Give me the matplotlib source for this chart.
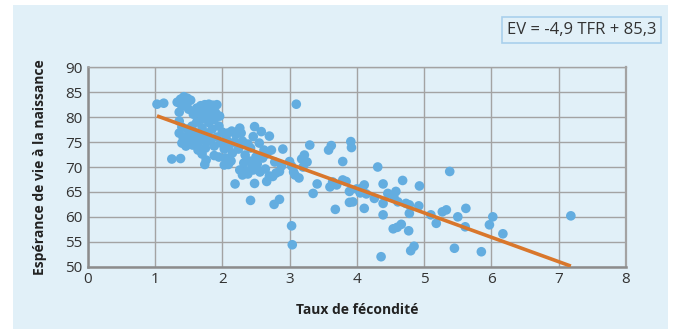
import matplotlib.pyplot as plt
from matplotlib.patches import Rectangle

# Fertility rate (x) and life expectancy (y)
tfr = [
    1.03, 1.13, 1.25, 1.38,
    1.33, 1.38, 1.43, 1.48, 1.53, 1.40, 1.36, 1.45, 1.50, 1.57,
    1.62, 1.68, 1.74, 1.80, 1.86, 1.92, 1.65, 1.72, 1.78, 1.84, 1.90, 1.96,
    1.70, 1.62, 1.88, 1.80,
    1.36, 1.40, 1.36, 1.42, 1.40, 1.46, 1.52, 1.50, 1.48, 1.55, 1.58, 1.60,
    1.56, 1.64, 1.66, 1.70, 1.72, 1.75, 1.78, 1.82, 1.85, 1.88, 1.92, 1.95,
    1.98, 2.00, 2.03, 2.06, 2.08, 2.10, 2.14, 2.15, 2.18, 2.20, 2.24, 2.26,
    1.64, 1.70, 1.76, 1.74, 1.88, 1.95, 2.03, 2.09, 2.05, 2.13,
    2.28, 2.30, 2.34, 2.32, 2.38, 2.36, 2.40, 2.42, 2.44, 2.46, 2.48, 2.50,
    2.52, 2.55, 2.58, 2.60, 2.62, 2.64, 2.70, 2.66, 2.26, 2.30, 2.38, 2.46,
    2.56,
    2.19, 2.48, 2.66, 2.75, 2.85, 2.42, 2.77, 2.85, 2.70, 2.80, 2.73, 2.90,
    2.78, 2.88,
    3.00, 3.03, 3.06, 3.08, 3.10, 3.03, 3.04, 3.18, 3.22, 3.26, 3.30, 3.14,
    3.20,
    3.35, 3.41, 3.60, 3.64, 3.70, 3.58, 3.62, 3.68, 3.79, 3.84, 3.89, 3.89,
    3.91, 3.92, 3.79,
    3.94, 4.00, 4.05, 4.08, 4.11, 4.14, 4.11, 4.31, 4.39, 4.26, 4.46, 4.39,
    4.39, 4.36, 4.58, 4.61, 4.68, 4.55, 4.73, 4.78, 4.78, 4.93, 4.92, 4.54,
    4.60, 4.66, 4.77, 4.80, 4.85,
    5.10, 5.18, 5.27, 5.33, 5.38, 5.50, 5.45, 5.62, 5.61, 6.02, 5.97, 6.17,
    5.85, 7.18,
]
ev = [
    82.6, 82.8, 71.6, 71.7,
    83.0, 83.6, 84.1, 83.8, 83.4, 82.2, 81.0, 82.6, 81.6, 80.6,
    81.8, 82.3, 82.5, 82.6, 82.4, 82.5, 80.8, 81.2, 80.5, 81.4, 80.9, 80.2,
    79.6, 79.0, 79.5, 78.9,
    79.2, 78.0, 76.8, 75.8, 74.8, 74.2, 75.0, 76.5, 77.6, 78.2, 77.0, 75.8,
    74.4, 74.8, 76.4, 77.8, 75.4, 73.8, 76.8, 75.2, 77.6, 74.2, 76.0, 78.2,
    74.8, 77.0, 73.6, 75.6, 76.8, 74.2, 77.2, 72.8, 75.0, 76.5, 73.6, 77.8,
    73.4, 72.6, 71.4, 70.5, 72.3, 72.0, 70.4, 70.5, 71.8, 71.2,
    76.8, 75.2, 72.4, 70.8, 74.6, 69.2, 71.2, 73.8, 69.8, 76.1, 78.1, 72.0,
    70.6, 74.8, 77.1, 71.8, 73.4, 69.6, 76.2, 72.6, 69.4, 68.4, 68.6, 69.4,
    69.0,
    66.6, 66.7, 67.1, 68.1, 69.1, 63.3, 62.5, 63.5, 68.2, 68.8, 73.4, 73.6,
    71.0, 70.2,
    71.1, 70.2, 69.0, 68.4, 82.6, 58.2, 54.4, 71.6, 72.4, 71.0, 74.4, 67.8,
    70.0,
    64.7, 66.6, 66.0, 67.0, 66.4, 73.4, 74.3, 61.5, 71.1, 67.1, 65.1, 62.9,
    75.1, 73.9, 67.4,
    63.0, 65.6, 64.8, 65.8, 66.4, 64.6, 61.7, 70.0, 66.6, 63.7, 64.7, 62.7,
    60.4, 52.0, 65.1, 63.0, 67.3, 64.0, 62.7, 62.4, 60.7, 66.2, 62.2, 57.6,
    57.9, 58.5, 57.2, 53.2, 54.1,
    60.4, 58.7, 61.0, 61.4, 69.1, 60.0, 53.7, 61.7, 58.0, 60.0, 58.4, 56.6,
    53.0, 60.2,
]

# Regression shown on the chart
slope = -4.9
intercept = 85.3
x_ticks = [0, 1, 2, 3, 4, 5, 6, 7, 8]
y_ticks = [50, 55, 60, 65, 70, 75, 80, 85, 90]

BG = '#e1f0f8'
DOT = '#63ade0'
LINE = '#d9772c'
GRID = '#a3a3a3'

plt.rcParams['font.family'] = ['Open Sans', 'DejaVu Sans']

fig = plt.figure(figsize=(6.73, 3.29), dpi=100)
fig.patch.set_facecolor('white')
fig.patches.append(Rectangle((13 / 673, 0), 655 / 673, 324 / 329,
                             transform=fig.transFigure, facecolor=BG,
                             edgecolor='none', zorder=-5))

ax = fig.add_axes([0.1303, 0.1894, 0.7999, 0.6060])
ax.set_facecolor(BG)
ax.set_xlim(0, 8)
ax.set_ylim(50, 90)
ax.set_xticks(x_ticks)
ax.set_yticks(y_ticks)
ax.grid(True, color=GRID, linewidth=1.0)
ax.set_axisbelow(True)
for side in ['top', 'right']:
    ax.spines[side].set_color(GRID)
    ax.spines[side].set_linewidth(1.0)
for side in ['left', 'bottom']:
    ax.spines[side].set_color('#8c8c8c')
    ax.spines[side].set_linewidth(1.8)
ax.spines['right'].set_linewidth(1.6)
ax.tick_params(length=0, labelsize=11, colors='#333333', pad=4)

ax.scatter(tfr, ev, s=48, color=DOT, edgecolors='none', zorder=3)

x0, x1 = min(tfr), max(tfr)
ax.plot([x0, x1], [slope * x0 + intercept, slope * x1 + intercept],
        color=LINE, linewidth=2.6, solid_capstyle='butt', zorder=4)

ax.set_xlabel('Taux de fécondité', fontsize=10, fontweight='bold',
              color='#222222', labelpad=11)
ax.set_ylabel('Espérance de vie à la naissance', fontsize=10,
              fontweight='bold', color='#222222', labelpad=13)

fig.text(0.864, 0.909, 'EV = -4,9 TFR + 85,3', fontsize=12, color='#333333',
         ha='center', va='center',
         bbox=dict(boxstyle='square,pad=0.3', facecolor=BG,
                   edgecolor='#a9d0ec', linewidth=1.2))

fig.savefig('out.png', dpi=100)
